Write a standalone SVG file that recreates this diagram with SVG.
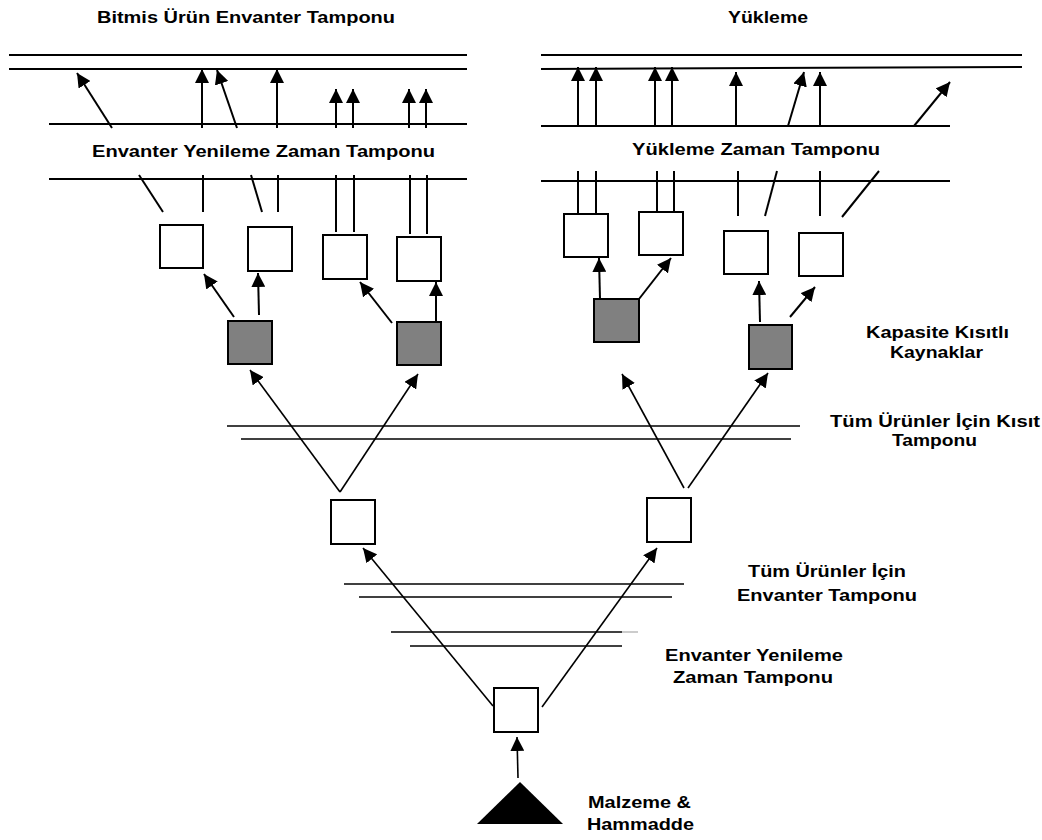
<svg xmlns="http://www.w3.org/2000/svg" width="1042" height="840" viewBox="0 0 1042 840">
  <defs>
    <marker id="arrow" markerUnits="userSpaceOnUse" markerWidth="14" markerHeight="14" refX="14" refY="7" orient="auto">
      <path d="M0,0 L14,7 L0,14 Z" fill="#000"/>
    </marker>
    <style>
      .lbl { font-family: "Liberation Sans", Arial, sans-serif; font-weight: bold; font-size: 17px; fill: #000; }
      .rail { stroke: #000; stroke-width: 2; fill: none; }
      .rail-thin { stroke: #000; stroke-width: 1.6; fill: none; }
      .link { stroke: #000; stroke-width: 2; fill: none; }
      .flow { stroke: #000; stroke-width: 2; fill: none; marker-end: url(#arrow); }
      .flow-thin { stroke: #000; stroke-width: 1.6; fill: none; marker-end: url(#arrow); }
      .box { fill: #fff; stroke: #000; stroke-width: 2; }
      .res { fill: #808080; stroke: #000; stroke-width: 2; }
    </style>
  </defs>
  <rect width="1042" height="840" fill="#fff"/>

  <!-- buffer rails -->
  <g id="rails">
    <line class="rail" x1="9" y1="55" x2="467" y2="55"/>
    <line class="rail" x1="9" y1="69" x2="467" y2="69"/>
    <line class="rail" x1="49" y1="124" x2="467" y2="124"/>
    <line class="rail" x1="49" y1="179" x2="467" y2="179"/>
    <line class="rail" x1="541" y1="55" x2="1022" y2="55"/>
    <line class="rail" x1="541" y1="69" x2="1022" y2="67"/>
    <line class="rail" x1="541" y1="126" x2="950" y2="126"/>
    <line class="rail" x1="541" y1="181" x2="950" y2="181"/>
    <line class="rail-thin" x1="227" y1="426" x2="800" y2="426"/>
    <line class="rail-thin" x1="241" y1="439" x2="791" y2="439"/>
    <line class="rail-thin" x1="344" y1="584" x2="684" y2="584"/>
    <line class="rail-thin" x1="359" y1="597" x2="672" y2="597"/>
    <line class="rail-thin" x1="391" y1="632" x2="622" y2="632"/>
    <line x1="622" y1="632" x2="638" y2="632" stroke="#999" stroke-width="1"/>
    <line class="rail-thin" x1="410" y1="646" x2="622" y2="646"/>
  </g>

  <!-- connectors -->
  <g id="connectors">
    <!-- into finished goods buffer -->
    <line class="flow" x1="112" y1="128" x2="77" y2="73"/>
    <line class="flow" x1="202" y1="128" x2="202" y2="69"/>
    <line class="flow" x1="237" y1="128" x2="217" y2="70"/>
    <line class="flow" x1="277" y1="128" x2="277" y2="69"/>
    <line class="flow" x1="336" y1="128" x2="336" y2="89"/>
    <line class="flow" x1="353" y1="128" x2="353" y2="89"/>
    <line class="flow" x1="409" y1="128" x2="409" y2="89"/>
    <line class="flow" x1="426" y1="128" x2="426" y2="89"/>
    <!-- left boxes up to replenishment buffer -->
    <line class="link" x1="139" y1="175" x2="163" y2="212"/>
    <line class="link" x1="203" y1="175" x2="203" y2="212"/>
    <line class="link" x1="251" y1="175" x2="262" y2="212"/>
    <line class="link" x1="278" y1="175" x2="278" y2="212"/>
    <line class="link" x1="336" y1="175" x2="336" y2="232"/>
    <line class="link" x1="354" y1="175" x2="354" y2="232"/>
    <line class="link" x1="410" y1="175" x2="410" y2="234"/>
    <line class="link" x1="427" y1="175" x2="427" y2="234"/>
    <!-- into shipping -->
    <line class="flow" x1="578" y1="126" x2="578" y2="67"/>
    <line class="flow" x1="596" y1="126" x2="596" y2="67"/>
    <line class="flow" x1="655" y1="126" x2="655" y2="67"/>
    <line class="flow" x1="672" y1="126" x2="672" y2="67"/>
    <line class="flow" x1="736" y1="126" x2="736" y2="72"/>
    <line class="flow" x1="788" y1="126" x2="804" y2="72"/>
    <line class="flow" x1="820" y1="126" x2="820" y2="72"/>
    <line class="flow" x1="914" y1="126" x2="950" y2="82"/>
    <!-- right boxes up to shipping buffer -->
    <line class="link" x1="578" y1="171" x2="578" y2="214"/>
    <line class="link" x1="596" y1="171" x2="596" y2="214"/>
    <line class="link" x1="657" y1="171" x2="657" y2="212"/>
    <line class="link" x1="674" y1="171" x2="674" y2="212"/>
    <line class="link" x1="738" y1="171" x2="738" y2="216"/>
    <line class="link" x1="777" y1="171" x2="765" y2="216"/>
    <line class="link" x1="820" y1="171" x2="820" y2="216"/>
    <line class="link" x1="879" y1="171" x2="842" y2="217"/>
    <!-- constrained resources to product boxes -->
    <line class="flow" x1="234" y1="317" x2="204" y2="274"/>
    <line class="flow" x1="259" y1="315" x2="258" y2="273"/>
    <line class="flow" x1="392" y1="323" x2="360" y2="282"/>
    <line class="flow" x1="436" y1="321" x2="436" y2="282"/>
    <line class="flow" x1="600" y1="299" x2="599" y2="258"/>
    <line class="flow" x1="639" y1="299" x2="671" y2="258"/>
    <line class="flow" x1="760" y1="322" x2="759" y2="281"/>
    <line class="flow" x1="790" y1="317" x2="815" y2="287"/>
    <!-- through the constraint buffer -->
    <line class="flow-thin" x1="340" y1="492" x2="250" y2="370"/>
    <line class="flow-thin" x1="340" y1="492" x2="418" y2="374"/>
    <line class="flow-thin" x1="684" y1="488" x2="622" y2="374"/>
    <line class="flow-thin" x1="688" y1="488" x2="768" y2="373"/>
    <!-- through the inventory buffers -->
    <line class="flow-thin" x1="493" y1="706" x2="363" y2="548"/>
    <line class="flow-thin" x1="542" y1="707" x2="657" y2="548"/>
    <!-- raw material in -->
    <line class="flow-thin" x1="518" y1="778" x2="517" y2="737"/>
  </g>

  <!-- product boxes, finished goods side -->
  <g id="p1"><rect class="box" x="160" y="225" width="43" height="43"/></g>
  <g id="p2"><rect class="box" x="248" y="227" width="44" height="44"/></g>
  <g id="p3"><rect class="box" x="323" y="235" width="44" height="44"/></g>
  <g id="p4"><rect class="box" x="397" y="237" width="44" height="44"/></g>
  <!-- product boxes, shipping side -->
  <g id="p5"><rect class="box" x="564" y="214" width="44" height="43"/></g>
  <g id="p6"><rect class="box" x="639" y="212" width="44" height="43"/></g>
  <g id="p7"><rect class="box" x="724" y="231" width="44" height="43"/></g>
  <g id="p8"><rect class="box" x="799" y="233" width="44" height="43"/></g>
  <!-- capacity constrained resources -->
  <g id="ccr1"><rect class="res" x="228" y="321" width="44" height="43"/></g>
  <g id="ccr2"><rect class="res" x="397" y="322" width="44" height="43"/></g>
  <g id="ccr3"><rect class="res" x="594" y="299" width="45" height="43"/></g>
  <g id="ccr4"><rect class="res" x="749" y="325" width="43" height="44"/></g>
  <!-- intermediate and base boxes -->
  <g id="m1"><rect class="box" x="331" y="500" width="44" height="44"/></g>
  <g id="m2"><rect class="box" x="647" y="498" width="44" height="44"/></g>
  <g id="base"><rect class="box" x="494" y="688" width="44" height="44"/></g>
  <g id="raw"><polygon points="520,782 477,824 563,824" fill="#000"/></g>

  <!-- labels -->
  <g id="labels">
    <text class="lbl" x="97" y="23" textLength="298" lengthAdjust="spacingAndGlyphs">Bitmis Ürün Envanter Tamponu</text>
    <text class="lbl" x="728" y="23" textLength="80" lengthAdjust="spacingAndGlyphs">Yükleme</text>
    <text class="lbl" x="92" y="157" textLength="343" lengthAdjust="spacingAndGlyphs">Envanter Yenileme Zaman Tamponu</text>
    <text class="lbl" x="632" y="155" textLength="248" lengthAdjust="spacingAndGlyphs">Yükleme Zaman Tamponu</text>
    <text class="lbl" x="866" y="338" textLength="143" lengthAdjust="spacingAndGlyphs">Kapasite Kısıtlı</text>
    <text class="lbl" x="890" y="358" textLength="93" lengthAdjust="spacingAndGlyphs">Kaynaklar</text>
    <text class="lbl" x="830" y="427" textLength="210" lengthAdjust="spacingAndGlyphs">Tüm Ürünler İçin Kısıt</text>
    <text class="lbl" x="892" y="446" textLength="85" lengthAdjust="spacingAndGlyphs">Tamponu</text>
    <text class="lbl" x="748" y="577" textLength="158" lengthAdjust="spacingAndGlyphs">Tüm Ürünler İçin</text>
    <text class="lbl" x="737" y="601" textLength="180" lengthAdjust="spacingAndGlyphs">Envanter Tamponu</text>
    <text class="lbl" x="665" y="661" textLength="178" lengthAdjust="spacingAndGlyphs">Envanter Yenileme</text>
    <text class="lbl" x="673" y="683" textLength="160" lengthAdjust="spacingAndGlyphs">Zaman Tamponu</text>
    <text class="lbl" x="588" y="808" textLength="103" lengthAdjust="spacingAndGlyphs">Malzeme &amp;</text>
    <text class="lbl" x="587" y="830" textLength="107" lengthAdjust="spacingAndGlyphs">Hammadde</text>
  </g>
</svg>
